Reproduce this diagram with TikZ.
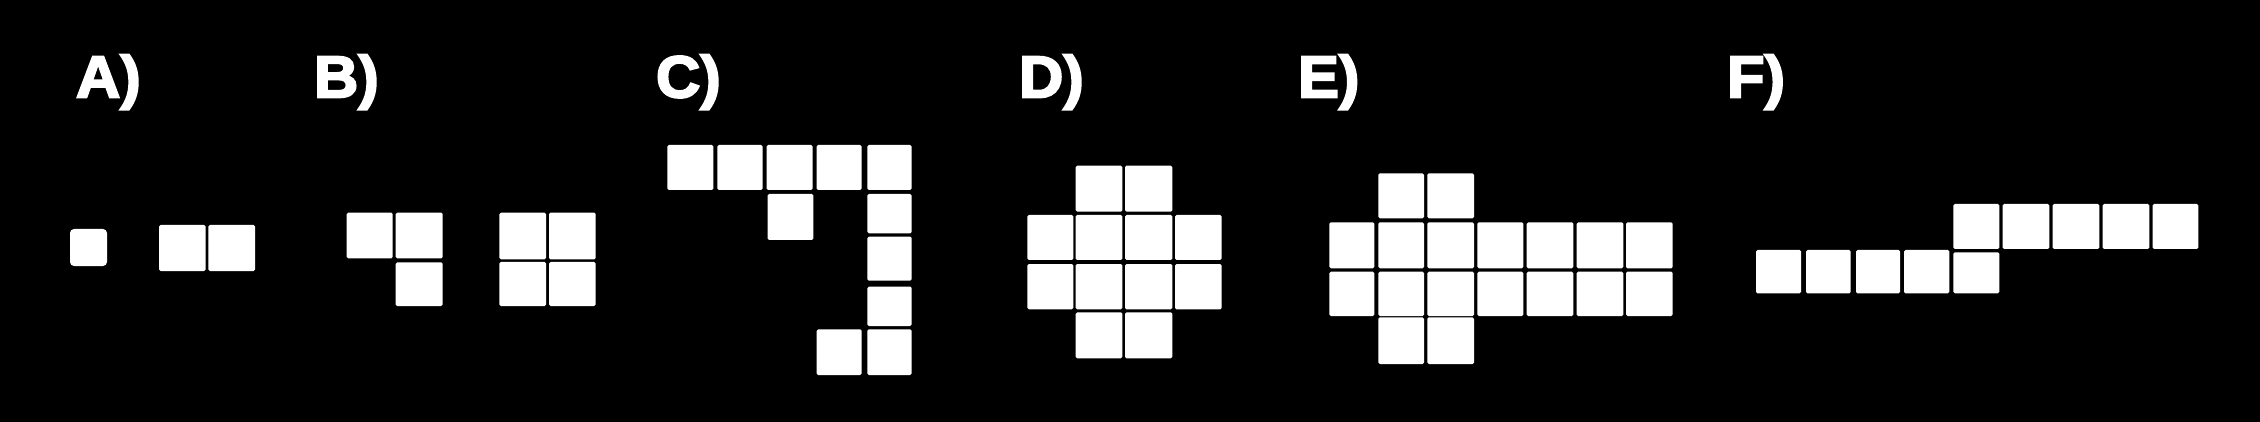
\documentclass[tikz,border=0pt]{standalone}
\usepackage{fontspec}
\setmainfont{Liberation Sans}[BoldFeatures={FakeBold=3.5,FakeStretch=1.04}]
\tikzset{
  cellbox/.style={fill=white, rounded corners=1.5pt},
  lbl/.style={text=white, anchor=base west, inner sep=0pt, outer sep=0pt,
    font=\fontsize{59}{59}\selectfont\bfseries}
}
\newcommand{\cellat}[4]{\fill[cellbox] (#1,#2) rectangle (#3,#4);}
\begin{document}
\begin{tikzpicture}[x=1pt,y=-1pt]
\fill[black] (0,0) rectangle (2260,422);
\useasboundingbox (0,0) rectangle (2260,422);
% labels
\node[lbl] (la) at (76,97.3) {A)};
\node[lbl] (lb) at (314,97.3) {B)};
\node[lbl] (lc) at (656,97.3) {C)};
\node[lbl] (ld) at (1019,97.3) {D)};
\node[lbl] (le) at (1298,97.3) {E)};
\node[lbl] (lf) at (1727,97.3) {F)};
% A
\fill[white, rounded corners=4pt] (70,229) rectangle (107,266);
\cellat{159}{225}{205.7}{271}
\cellat{208.3}{225}{255}{271}
% B left
\cellat{346.7}{212.7}{392.7}{258.3}
\cellat{395.7}{212.7}{442.7}{258.3}
\cellat{395.7}{262.3}{442.7}{306}
% B square
\cellat{499.3}{212.7}{546}{259.3}
\cellat{549}{212.7}{595.7}{259.3}
\cellat{499.3}{262}{546}{306}
\cellat{549}{262}{595.7}{306}
% C
\cellat{667.3}{145}{713.3}{190}
\cellat{717.3}{145}{762.7}{190}
\cellat{766.7}{145}{812.7}{190}
\cellat{816.7}{145}{861.7}{190}
\cellat{867.3}{145}{911.7}{190}
\cellat{767.7}{194}{813.3}{240}
\cellat{867.3}{194}{911.7}{233.3}
\cellat{867.3}{236.7}{911.7}{280.7}
\cellat{867.3}{286.7}{911.7}{326}
\cellat{867.3}{329.3}{911.7}{375}
\cellat{816.7}{329.3}{861.7}{375}
% D
\foreach \xa/\xb in {1075.7/1122.3, 1125/1172.3}{
  \cellat{\xa}{165.7}{\xb}{211.7}
  \cellat{\xa}{312.3}{\xb}{358.3}
}
\foreach \xa/\xb in {1027.3/1073.3, 1075.7/1122.3, 1125/1172.3, 1175/1221.7}{
  \cellat{\xa}{215}{\xb}{260}
  \cellat{\xa}{264}{\xb}{309.3}
}
% E
\foreach \xa/\xb in {1378.3/1424, 1427.3/1474}{
  \cellat{\xa}{173.3}{\xb}{218.3}
  \cellat{\xa}{317.3}{\xb}{364}
}
\foreach \xa/\xb in {1329.3/1374.3, 1378.3/1424, 1427.3/1474, 1477.3/1523.3, 1526.7/1573.3, 1576.7/1623.3, 1626/1672.7}{
  \cellat{\xa}{222.3}{\xb}{268.3}
  \cellat{\xa}{271.7}{\xb}{316}
}
% F
\foreach \xa/\xb in {1953.3/1999.3, 2002.7/2049.3, 2052.7/2099.3, 2102.7/2149.3, 2152.7/2198.3}{
  \cellat{\xa}{204}{\xb}{249}
}
\foreach \xa/\xb in {1756/1801, 1806/1850.7, 1856/1900, 1904/1949.3}{
  \cellat{\xa}{250}{\xb}{293.3}
}
\cellat{1953.3}{252.3}{1999.3}{293.3}
\end{tikzpicture}
\end{document}
